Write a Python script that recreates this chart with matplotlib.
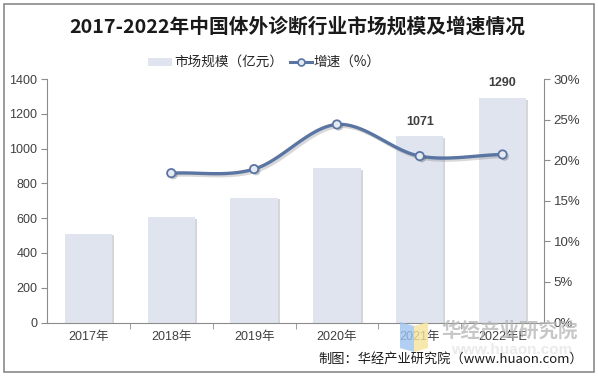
import numpy as np
import matplotlib
matplotlib.use("Agg")
import matplotlib.pyplot as plt
from matplotlib import patheffects as pe
from matplotlib.patches import Rectangle, Polygon

categories = ["2017年", "2018年", "2019年", "2020年", "2021年", "2022年E"]
market_size = [511, 604, 716, 887, 1071, 1290]
growth_years = [1, 2, 3, 4, 5]
growth_rate = [18.4, 18.9, 24.4, 20.5, 20.7]
labeled_bars = [4, 5]

title = "2017-2022年中国体外诊断行业市场规模及增速情况"
legend_bar = "市场规模（亿元）"
legend_line = "增速（%）"
source = "制图：华经产业研究院（www.huaon.com）"

CJK = ["Liberation Sans", "Noto Sans CJK SC", "DejaVu Sans"]
plt.rcParams["font.family"] = CJK

bar_color = "#dfe4ee"
line_color = "#5b75a3"
axis_color = "#8c8c8c"
text_color = "#404040"

W, H = 598, 378
fig = plt.figure(figsize=(W / 100, H / 100), dpi=100)
fig.patch.set_facecolor("white")

# outer frame
fig.add_artist(Rectangle((4 / W, 6 / H), 590 / W, 368 / H, transform=fig.transFigure,
                         fill=False, edgecolor="#8a8a8a", linewidth=1.2))

ax = fig.add_axes([47 / W, 55.5 / H, 497 / W, 243.5 / H])
ax2 = ax.twinx()

x = np.arange(len(categories))
bars = ax.bar(x, market_size, width=0.57, color=bar_color, zorder=2)
for b in bars:
    b.set_path_effects([pe.SimplePatchShadow(offset=(1.5, -1), shadow_rgbFace="#7a7a7a", alpha=0.3),
                        pe.Normal()])
for i in labeled_bars:
    ax.text(x[i], market_size[i] + 50, str(market_size[i]), ha="center", va="bottom",
            fontsize=9, fontweight="bold", color="#404040")

ax.set_xlim(-0.5, len(categories) - 0.5)
ax.set_ylim(0, 1400)
ax.set_yticks(np.arange(0, 1401, 200))
ax.set_xticks(x)
ax.set_xticklabels(categories)
ax.set_xticks(np.arange(0.5, len(categories) - 0.5, 1), minor=True)
ax.tick_params(axis="x", which="major", length=0, pad=6, labelsize=9, labelcolor=text_color)
ax.tick_params(axis="x", which="minor", length=4, color=axis_color, direction="out")
ax.tick_params(axis="y", length=4, color=axis_color, labelsize=9, labelcolor=text_color, pad=3)
for s in ["top", "right"]:
    ax.spines[s].set_visible(False)
for s in ["left", "bottom"]:
    ax.spines[s].set_color(axis_color)

# smooth line (Catmull-Rom rendering through the data points)
def smooth(xs, ys, n=30):
    xs = np.asarray(xs, float); ys = np.asarray(ys, float)
    P = np.column_stack([xs, ys])
    P = np.vstack([P[0] - (P[1] - P[0]), P, P[-1] + (P[-1] - P[-2])])
    out = []
    for i in range(1, len(P) - 2):
        p0, p1, p2, p3 = P[i - 1], P[i], P[i + 1], P[i + 2]
        t = np.linspace(0, 1, n)[:, None]
        c = 0.5 * ((2 * p1) + (-p0 + p2) * t + (2 * p0 - 5 * p1 + 4 * p2 - p3) * t ** 2
                   + (-p0 + 3 * p1 - 3 * p2 + p3) * t ** 3)
        out.append(c if i == 1 else c[1:])
    c = np.vstack(out)
    return c[:, 0], c[:, 1]

sx, sy = smooth(growth_years, growth_rate)
shadow = [pe.SimpleLineShadow(offset=(1.5, -1.5), shadow_color="#808080", alpha=0.3), pe.Normal()]
ax2.plot(sx, sy, color=line_color, linewidth=2.4, zorder=3, path_effects=shadow,
         solid_capstyle="round")
ax2.plot(growth_years, growth_rate, linestyle="none", marker="o", markersize=6,
         markerfacecolor="#e4e9f2", markeredgecolor=line_color, markeredgewidth=1.3, zorder=4,
         path_effects=[pe.SimplePatchShadow(offset=(1.5, -1.5), alpha=0.3), pe.Normal()])
ax2.set_ylim(0, 30)
ax2.set_yticks(np.arange(0, 31, 5))
ax2.set_yticklabels([f"{v}%" for v in range(0, 31, 5)])
ax2.tick_params(axis="y", length=4, color=axis_color, labelsize=9.5, labelcolor=text_color, pad=3)
for s in ["top", "left", "bottom"]:
    ax2.spines[s].set_visible(False)
ax2.spines["right"].set_color(axis_color)

# title
fig.text(297 / W, 1 - 27 / H, title, ha="center", va="center", fontsize=14.2,
         fontweight="bold", color="#1a1a1a", family=["Noto Sans CJK SC", "DejaVu Sans"])

# legend (manual)
fig.add_artist(Rectangle((148 / W, 1 - 66 / H), 24 / W, 8 / H, transform=fig.transFigure,
                         facecolor=bar_color, edgecolor="none"))
fig.text(174 / W, 1 - 62 / H, legend_bar, ha="left", va="center", fontsize=9.8,
         color="#262626", family=["Noto Sans CJK SC"])
fig.add_artist(plt.Line2D([290 / W, 312 / W], [1 - 62 / H, 1 - 62 / H], transform=fig.transFigure,
                          color=line_color, linewidth=2.2))
fig.add_artist(plt.Line2D([301 / W], [1 - 62 / H], transform=fig.transFigure, marker="o",
                          markersize=5, markerfacecolor="#e4e9f2", markeredgecolor=line_color,
                          markeredgewidth=1.2))
fig.text(313 / W, 1 - 62 / H, legend_line, ha="left", va="center", fontsize=9.8,
         color="#262626", family=["Noto Sans CJK SC"])

# watermark
fig.add_artist(Polygon([(400 / W, 1 - 322 / H), (414 / W, 1 - 326 / H), (414 / W, 1 - 352 / H),
                        (400 / W, 1 - 348 / H)], closed=True, transform=fig.transFigure,
                       facecolor="#9ec3f0", edgecolor="none", alpha=0.8))
fig.add_artist(Polygon([(414 / W, 1 - 326 / H), (428 / W, 1 - 322 / H), (428 / W, 1 - 348 / H),
                        (414 / W, 1 - 352 / H)], closed=True, transform=fig.transFigure,
                       facecolor="#f5e49a", edgecolor="none", alpha=0.8))
fig.text(510 / W, 1 - 331 / H, "华经产业研究院", ha="center", va="center", fontsize=14,
         fontweight="bold", color="#b5b5b5", alpha=0.75, family=["Noto Sans CJK SC"])
fig.text(512 / W, 1 - 350 / H, "www.huaon.com", ha="center", va="center", fontsize=11,
         fontweight="bold", color="#dcdcdc", alpha=0.6, family=["Liberation Sans"])

# source
fig.text(583 / W, 1 - 359 / H, source, ha="right", va="center", fontsize=9.5,
         color="#1a1a1a", family=["Noto Sans CJK SC", "Liberation Sans"])

fig.savefig("out.png", dpi=100, facecolor="white")
